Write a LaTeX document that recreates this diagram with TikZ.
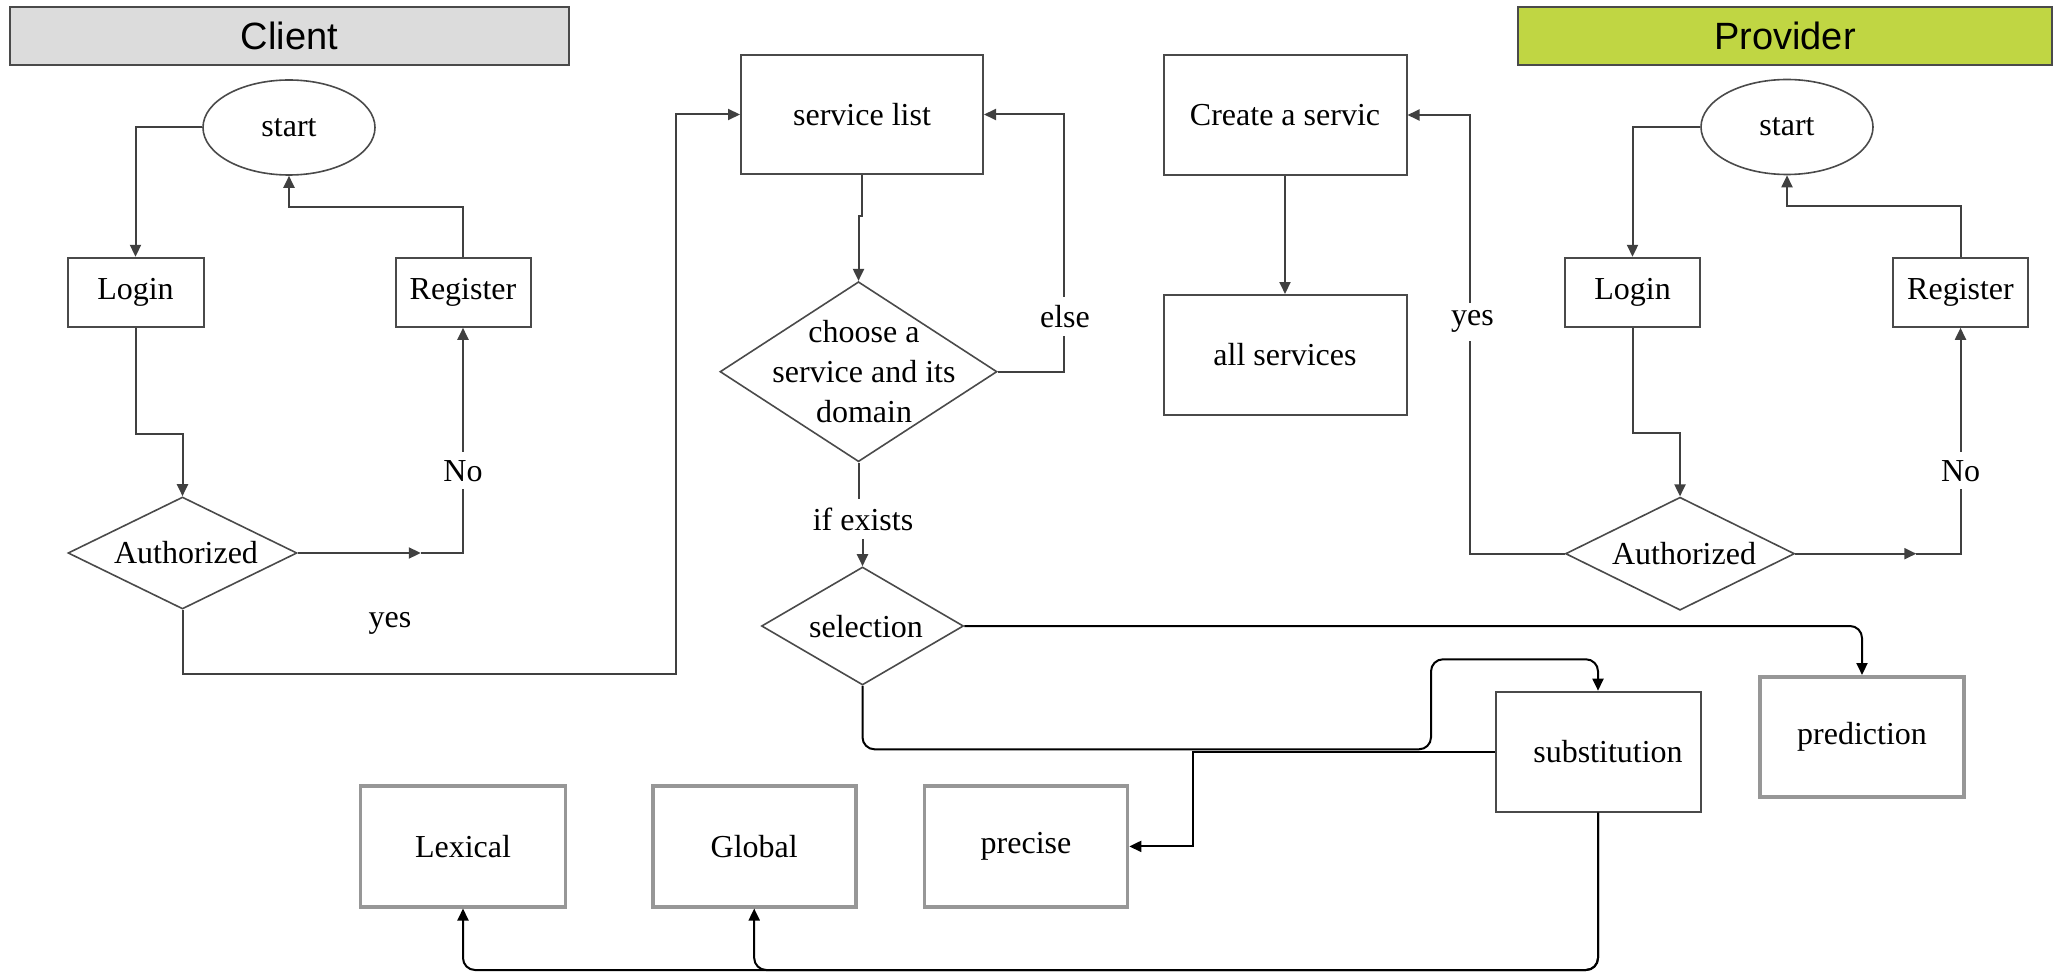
\documentclass[tikz,border=0pt]{standalone}
\usepackage{fontspec}
\setmainfont{Liberation Serif}
\newfontfamily\headfont{Liberation Sans}
\usetikzlibrary{shapes.geometric,arrows.meta}
\definecolor{linegray}{HTML}{404040}
\definecolor{boxgray}{HTML}{4A4A4A}
\definecolor{softgray}{HTML}{979797}
\definecolor{clientfill}{HTML}{DCDCDC}
\definecolor{providerfill}{HTML}{C0D643}

\begin{document}
\begin{tikzpicture}[x=0.5pt,y=-0.5pt,
  font=\fontsize{16pt}{20pt}\selectfont,
  header/.style={draw=boxgray, line width=1pt, minimum height=28.9pt, inner sep=0pt,
    font=\headfont\fontsize{19pt}{22pt}\selectfont},
  box/.style={draw=boxgray, line width=1pt, rectangle, inner sep=0pt},
  softbox/.style={draw=softgray, line width=1.8pt, rectangle, inner sep=0pt},
  startshape/.style={draw=boxgray, line width=0.8pt, ellipse, inner sep=0pt,
    minimum width=86pt, minimum height=47.5pt},
  decision/.style={draw=boxgray, line width=0.8pt, diamond, inner sep=0pt},
  flow/.style={draw=linegray, line width=1pt, -{Triangle[length=6pt,width=5.5pt]}},
  flowline/.style={draw=linegray, line width=1pt},
  branch/.style={draw=black, line width=1pt, rounded corners=6pt,
    -{Triangle[length=6pt,width=5.5pt]}},
  tag/.style={fill=white, inner xsep=1.5pt, inner ysep=4pt},
]
\useasboundingbox (0,0) rectangle (2060,973);

% lane headers
\node[header, fill=clientfill, minimum width=279.6pt] (clienthead) at (289.4,36.2) {Client};
\node[header, fill=providerfill, minimum width=267pt] (providerhead) at (1785,36.2) {Provider};

% client side
\node[startshape] (cstart) at (289,127.5) {start};
\node[box, minimum width=68pt, minimum height=34.5pt] (clogin) at (135.5,292.3) {Login};
\node[box, minimum width=67.5pt, minimum height=34.5pt] (creg) at (463,292.3) {Register};
\node[decision, minimum width=114.5pt, minimum height=56pt] (cauth) at (182.5,553) {};
\node (cautht) at (186,553) {Authorized};

% service selection
\node[box, minimum width=121pt, minimum height=59.5pt] (svc) at (862,114.5) {service list};
\node[decision, minimum width=138.5pt, minimum height=90pt] (choose) at (858.5,371.7) {};
\node[align=center] (chooset) at (864,372) {choose a\\service and its\\domain};
\node[tag] (ifexists) at (863,519) {if exists};
\node[decision, minimum width=101pt, minimum height=59pt] (sel) at (862.5,626) {};
\node (selt) at (866,627) {selection};
\node[softbox, minimum width=102pt, minimum height=60pt] (pred) at (1862,736.8) {prediction};
\node[box, minimum width=102.5pt, minimum height=60pt] (sub) at (1598,751.7) {\hspace{10pt}substitution};
\node[softbox, minimum width=102.5pt, minimum height=60.3pt] (lex) at (463,846.4) {Lexical};
\node[softbox, minimum width=101.5pt, minimum height=60.3pt] (glob) at (754.2,846.4) {Global};
\node[softbox, minimum width=101.5pt, minimum height=60.3pt] (prec) at (1026,846.4) {precise};

% provider side
\node[box, minimum width=121.5pt, minimum height=60pt] (create) at (1285,115) {Create a servic};
\node[box, minimum width=121.5pt, minimum height=60pt] (allsvc) at (1285,355) {all services};
\node[startshape] (pstart) at (1787,127) {start};
\node[box, minimum width=67.5pt, minimum height=34.5pt] (plogin) at (1632.5,292.3) {Login};
\node[box, minimum width=67.5pt, minimum height=34.5pt] (preg) at (1960.5,292.3) {Register};
\node[decision, minimum width=114.5pt, minimum height=56.5pt] (pauth) at (1680,553.7) {};
\node (pautht) at (1684,553.7) {Authorized};

% client flow
\draw[flow] (cstart.west) -| (clogin.north);
\draw[flow] (creg.north) -- ++(0,-50) -| (cstart.south);
\draw[flow] (clogin.south) -- ++(0,106) -| (cauth.north);
\draw[flow] (cauth.east) -- ++(123,0) coordinate (cnoarrow);
\draw[flow] (cnoarrow) -| (creg.south);
\coordinate (cyesturn) at (676,674);
\draw[flow] (cauth.south) |- (cyesturn) |- (svc.west);

% service selection flow
\draw[flow] (svc.south) -- ++(0,41) -| (choose.north);
\draw[flow] (choose.east) -- ++(66,0) |- (svc.east);
\draw[flowline] (choose.south) -- (choose.south |- ifexists.north);
\draw[flow] (sel.north |- ifexists.south) -- (sel.north);

\draw[branch] (sel.east) -| (pred.north);
\coordinate (loopA) at (1431,749.3);
\coordinate (loopB) at (1431,659.3);
\draw[branch] (sel.south) |- (loopA) -- (loopB) -| (sub.north);
\coordinate (precturn) at (1193,751.7);
\draw[branch, rounded corners=0pt] (sub.west) -- (precturn) |- (prec.east);
\coordinate (bottomrun) at (1000,970);
\draw[branch] (sub.south) |- (bottomrun) -| (lex.south);
\draw[branch] (sub.south) |- (bottomrun) -| (glob.south);

% provider flow
\draw[flow] (pstart.west) -| (plogin.north);
\draw[flow] (preg.north) -- ++(0,-50.5) -| (pstart.south);
\draw[flow] (plogin.south) -- ++(0,105.5) -| (pauth.north);
\draw[flow] (pauth.east) -- ++(121,0) coordinate (pnoarrow);
\draw[flow] (pnoarrow) -| (preg.south);
\draw[flow] (pauth.west) -- ++(-95,0) |- (create.east);
\draw[flow] (create.south) -- (allsvc.north);

% branch labels
\node[tag] (cno) at (463,470.7) {No};
\node (cyes) at (390,623) {yes};
\node[tag] (elselbl) at (1065,316.7) {else};
\node[tag] (pyes) at (1472.4,321.7) {yes};
\node[tag] (pno) at (1960.6,470.7) {No};
\end{tikzpicture}
\end{document}
